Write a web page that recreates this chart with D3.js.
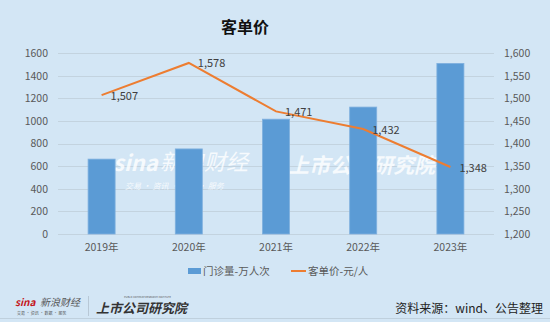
<!DOCTYPE html>
<html>
<head>
<meta charset="utf-8">
<script src="https://cdn.jsdelivr.net/npm/d3@7"></script>
<style>
  body { margin: 0; background: #d3e6f5; }
  svg text { font-family: "Noto Sans CJK SC", "DejaVu Sans", sans-serif; }
</style>
</head>
<body>
<svg id="chart" width="550" height="322"></svg>
<script>
const years = ['2019年', '2020年', '2021年', '2022年', '2023年'];
const visits = [662, 752, 1015, 1122, 1508];
const price = [1507, 1578, 1471, 1432, 1348];
const leftTicks = [0, 200, 400, 600, 800, 1000, 1200, 1400, 1600];
const rightTicks = [1200, 1250, 1300, 1350, 1400, 1450, 1500, 1550, 1600];

const svg = d3.select('#chart');
const W = 550, H = 322;
const plot = { left: 58, right: 494, top: 53, bottom: 234 };

svg.append('rect').attr('width', W).attr('height', H).attr('fill', '#d3e6f5');

const x = d3.scaleBand().domain(years).range([plot.left, plot.right])
  .paddingInner(0.69).paddingOuter(0.345);
const yL = d3.scaleLinear().domain([0, 1600]).range([plot.bottom, plot.top]);
const yR = d3.scaleLinear().domain([1200, 1600]).range([plot.bottom, plot.top]);

// title
svg.append('text').attr('x', 245).attr('y', 33).attr('text-anchor', 'middle')
  .attr('font-size', 16).attr('font-weight', 'bold').attr('fill', '#111').text('客单价');

// grid
svg.append('g').selectAll('line').data(leftTicks).join('line')
  .attr('x1', plot.left).attr('x2', plot.right)
  .attr('y1', d => Math.round(yL(d)) + 0.5).attr('y2', d => Math.round(yL(d)) + 0.5)
  .attr('stroke', '#c3d3df').attr('stroke-width', 1);

// left axis
const axL = svg.append('g').attr('transform', `translate(${plot.left},0)`)
  .call(d3.axisLeft(yL).tickValues(leftTicks).tickSize(0).tickPadding(10).tickFormat(d3.format('d')));
axL.select('.domain').remove();
axL.selectAll('text').attr('font-size', 10.5).attr('fill', '#595959');

// right axis
const axR = svg.append('g').attr('transform', `translate(${plot.right},0)`)
  .call(d3.axisRight(yR).tickValues(rightTicks).tickSize(0).tickPadding(10).tickFormat(d3.format(',')));
axR.select('.domain').remove();
axR.selectAll('text').attr('font-size', 10.5).attr('fill', '#595959');

// x axis labels
const axX = svg.append('g').attr('transform', `translate(0,${plot.bottom})`)
  .call(d3.axisBottom(x).tickSize(0).tickPadding(10));
axX.select('.domain').remove();
axX.selectAll('text').attr('font-size', 10.5).attr('fill', '#595959');

// watermarks (behind bars)
const wm = svg.append('g').attr('fill', '#ffffff').attr('opacity', 0.8);
wm.append('text').attr('x', 113).attr('y', 171).attr('font-size', 22).attr('font-weight', 'bold')
  .attr('font-style', 'italic').attr('font-family', 'DejaVu Sans').text('sina');
wm.append('text').attr('x', 160).attr('y', 170).attr('font-size', 22).attr('font-style', 'italic')
  .text('新浪财经');
wm.append('text').attr('x', 125).attr('y', 189).attr('font-size', 8).attr('font-style', 'italic')
  .text('交易  ·  资讯  ·  数据  ·  服务');
wm.append('text').attr('x', 288).attr('y', 173).attr('font-size', 21).attr('font-weight', 'bold')
  .attr('font-style', 'italic').text('上市公司研究院');

// bars
svg.append('g').selectAll('rect').data(years).join('rect')
  .attr('x', d => x(d)).attr('width', x.bandwidth())
  .attr('y', (d, i) => yL(visits[i])).attr('height', (d, i) => yL(0) - yL(visits[i]))
  .attr('fill', '#5b9bd5').attr('stroke', '#7fb0de').attr('stroke-width', 0.8);

// line
const line = d3.line().x(d => x(d.year) + x.bandwidth() / 2).y(d => yR(d.v));
const pts = years.map((y, i) => ({ year: y, v: price[i] }));
svg.append('path').datum(pts).attr('d', line)
  .attr('fill', 'none').attr('stroke', '#ed7d31').attr('stroke-width', 2);

svg.append('g').selectAll('text').data(pts).join('text')
  .attr('x', d => x(d.year) + x.bandwidth() / 2 + 9).attr('y', d => yR(d.v) + 4.5)
  .attr('font-size', 11).attr('fill', '#404040').text(d => d3.format(',')(d.v));

// legend
const lg = svg.append('g');
lg.append('rect').attr('x', 188).attr('y', 268).attr('width', 13).attr('height', 6).attr('fill', '#5b9bd5');
lg.append('text').attr('x', 203).attr('y', 275).attr('font-size', 10.5).attr('fill', '#595959').text('门诊量-万人次');
lg.append('line').attr('x1', 291).attr('x2', 306).attr('y1', 271).attr('y2', 271)
  .attr('stroke', '#ed7d31').attr('stroke-width', 2);
lg.append('text').attr('x', 308).attr('y', 275).attr('font-size', 10.5).attr('fill', '#595959').text('客单价-元/人');

// footer
const ft = svg.append('g');
ft.append('text').attr('x', 15).attr('y', 306).attr('font-size', 10).attr('font-weight', 'bold')
  .attr('font-style', 'italic').attr('font-family', 'DejaVu Sans').attr('fill', '#c4161c').text('sina');
ft.append('text').attr('x', 40).attr('y', 306).attr('font-size', 10).attr('font-style', 'italic')
  .attr('fill', '#555').text('新浪财经');
ft.append('text').attr('x', 17).attr('y', 315).attr('font-size', 4).attr('fill', '#555')
  .text('交易 · 资讯 · 数据 · 服务');
ft.append('line').attr('x1', 88.5).attr('x2', 88.5).attr('y1', 296).attr('y2', 316)
  .attr('stroke', '#b8c8d6');
ft.append('text').attr('x', 96).attr('y', 313).attr('font-size', 13).attr('font-weight', 'bold')
  .attr('font-style', 'italic').attr('fill', '#333').text('上市公司研究院');
ft.append('text').attr('x', 124).attr('y', 298).attr('font-size', 2.5).attr('fill', '#555')
  .text('PUBLIC COMPANY RESEARCH INSTITUTE');
ft.append('text').attr('x', 543).attr('y', 313).attr('text-anchor', 'end').attr('font-size', 12)
  .attr('fill', '#222').text('资料来源：wind、公告整理');
ft.append('line').attr('x1', 0).attr('x2', W).attr('y1', 318.5).attr('y2', 318.5)
  .attr('stroke', '#bfd0dd');
</script>
</body>
</html>
